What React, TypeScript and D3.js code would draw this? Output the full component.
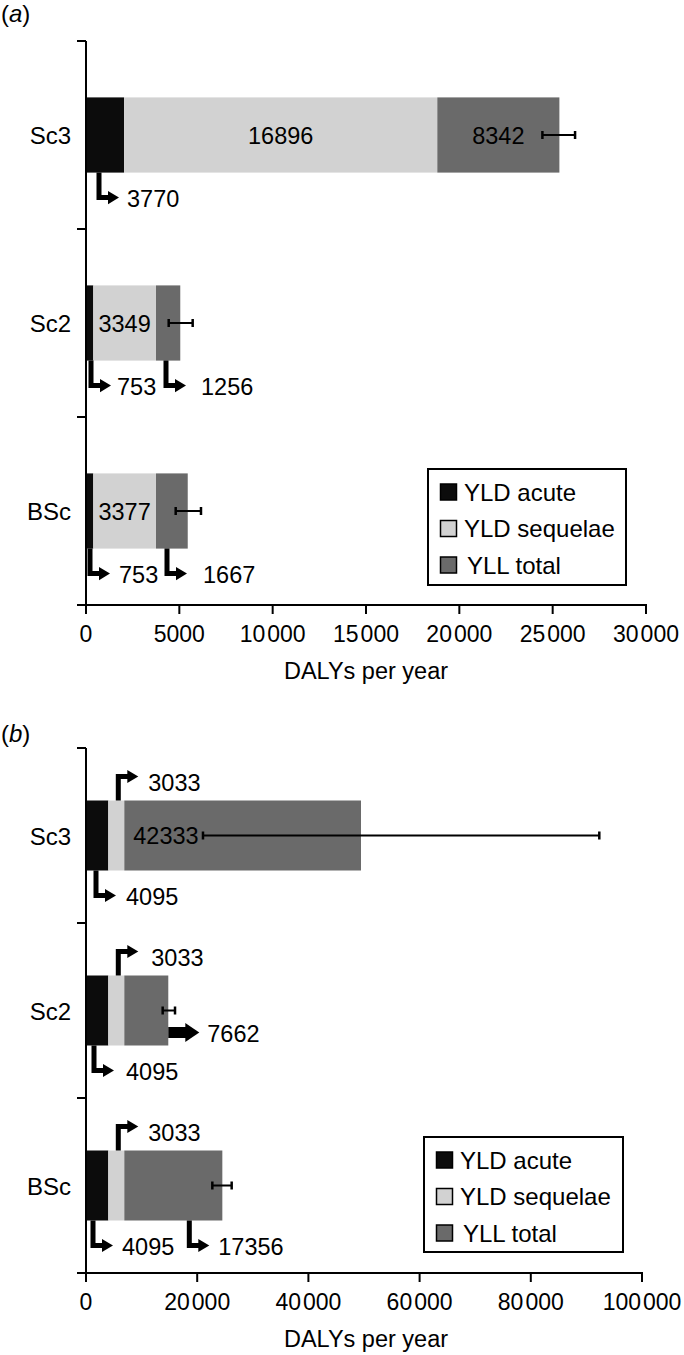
import React from "react";
import * as d3 from "d3";

// ---------- data ----------
const categories = ["Sc3", "Sc2", "BSc"];
const seriesNames = ["YLD acute", "YLD sequelae", "YLL total"];

// panel (a) bar segment lengths (DALYs per year)
const aAcute = [2040, 390, 390];
const aSequelae = [16780, 3360, 3360];
const aYll = [6540, 1300, 1700];
const aErrLow = [24450, 4430, 4805];
const aErrHigh = [26200, 5715, 6160];
const aTicks = [0, 5000, 10000, 15000, 20000, 25000, 30000];
const aInnerLabels = [["", "16896", "8342"], ["", "3349", ""], ["", "3377", ""]];

// panel (b)
const bAcute = [4010, 4010, 4010];
const bSequelae = [2880, 2880, 2880];
const bYll = [42570, 7910, 17630];
const bErrLow = [21040, 13790, 22720];
const bErrHigh = [92320, 16010, 26200];
const bTicks = [0, 20000, 40000, 60000, 80000, 100000];
const bInnerLabels = [["", "", "42333"], ["", "", ""], ["", "", ""]];

// callouts: [category index, segment index, direction, label]
const aCallouts: [number, number, string, string][] = [
  [0, 0, "down", "3770"],
  [1, 0, "down", "753"],
  [1, 2, "down", "1256"],
  [2, 0, "down", "753"],
  [2, 2, "down", "1667"],
];
const bCallouts: [number, number, string, string][] = [
  [0, 1, "up", "3033"],
  [0, 0, "down", "4095"],
  [1, 1, "up", "3033"],
  [1, 2, "right", "7662"],
  [1, 0, "down", "4095"],
  [2, 1, "up", "3033"],
  [2, 0, "down", "4095"],
  [2, 2, "down", "17356"],
];

// ---------- layout ----------
const colors = ["#0c0c0c", "#d2d2d2", "#6a6a6a"];
const FONT = "'Liberation Sans', Arial, Helvetica, sans-serif";

type PanelCfg = {
  tag: string;
  tagY: number;
  acute: number[];
  seq: number[];
  yll: number[];
  errLo: number[];
  errHi: number[];
  ticks: number[];
  inner: string[][];
  callouts: [number, number, string, string][];
  xRange: [number, number];
  yRange: [number, number];
  innerAlign: string;
  calloutLayout: { off: number; gap: number }[];
  legend: { x: number; y: number; w: number; h: number };
};

const panels: PanelCfg[] = [
  {
    tag: "a",
    tagY: 22,
    acute: aAcute,
    seq: aSequelae,
    yll: aYll,
    errLo: aErrLow,
    errHi: aErrHigh,
    ticks: aTicks,
    inner: aInnerLabels,
    callouts: aCallouts,
    xRange: [86, 646],
    yRange: [41, 605],
    innerAlign: "middle",
    calloutLayout: [
      { off: 13, gap: 8 },
      { off: 5, gap: 6 },
      { off: 10, gap: 15 },
      { off: 4, gap: 9 },
      { off: 11, gap: 16 },
    ],
    legend: { x: 428, y: 469, w: 198, h: 116 },
  },
  {
    tag: "b",
    tagY: 742,
    acute: bAcute,
    seq: bSequelae,
    yll: bYll,
    errLo: bErrLow,
    errHi: bErrHigh,
    ticks: bTicks,
    inner: bInnerLabels,
    callouts: bCallouts,
    xRange: [86, 642],
    yRange: [748, 1273],
    innerAlign: "start",
    calloutLayout: [
      { off: 10, gap: 10 },
      { off: 10, gap: 10 },
      { off: 10, gap: 13 },
      { off: 0, gap: 8 },
      { off: 8, gap: 12 },
      { off: 10, gap: 10 },
      { off: 7, gap: 9 },
      { off: 65, gap: 9 },
    ],
    legend: { x: 424, y: 1137, w: 199, h: 115 },
  },
];

function TickLabel({ x, y, v }: { x: number; y: number; v: number }) {
  const s = String(v);
  if (v >= 10000) {
    return (
      <text x={x} y={y} textAnchor="middle">
        {s.slice(0, -3)}
        <tspan dx={2}>{s.slice(-3)}</tspan>
      </text>
    );
  }
  return (
    <text x={x} y={y} textAnchor="middle">
      {s}
    </text>
  );
}

function Panel({ p }: { p: PanelCfg }) {
  const x = d3.scaleLinear().domain([0, p.ticks[p.ticks.length - 1]]).range(p.xRange);
  const y = d3.scaleBand<string>().domain(categories).range(p.yRange).paddingInner(0.6).paddingOuter(0.3);
  const bw = y.bandwidth();
  const x0 = p.xRange[0];
  const [yTop, yBot] = p.yRange;
  const tickStep = (yBot - yTop) / categories.length;

  const stacks = categories.map((c, i) => {
    const vals = [p.acute[i], p.seq[i], p.yll[i]];
    const cum = d3.cumsum(vals);
    return vals.map((v, j) => ({ start: cum[j] - v, end: cum[j] }));
  });

  const head = (tx: number, ty: number, size: number) =>
    `M${tx},${ty} L${tx - size},${ty - size * 0.6} L${tx - size},${ty + size * 0.6} Z`;

  return (
    <g fontFamily={FONT} fill="#000">
      <text x={1} y={p.tagY} fontSize={24}>
        (<tspan fontStyle="italic">{p.tag}</tspan>)
      </text>

      {categories.map((c, i) =>
        stacks[i].map((s, j) => (
          <rect
            key={c + j}
            x={x(s.start)}
            y={y(c)!}
            width={x(s.end) - x(s.start)}
            height={bw}
            fill={colors[j]}
          />
        ))
      )}

      {categories.map((c, i) =>
        stacks[i].map((s, j) =>
          p.inner[i][j] ? (
            <text
              key={"in" + c + j}
              x={p.innerAlign === "middle" ? (x(s.start) + x(s.end)) / 2 : x(s.start) + 9}
              y={y(c)! + bw / 2 + 8.5}
              fontSize={23.5}
              textAnchor={p.innerAlign}
            >
              {p.inner[i][j]}
            </text>
          ) : null
        )
      )}

      {categories.map((c, i) => {
        const cy = y(c)! + bw / 2;
        const a = x(p.errLo[i]);
        const b = x(p.errHi[i]);
        return (
          <g key={"e" + c} stroke="#000">
            <line x1={a} x2={b} y1={cy} y2={cy} strokeWidth={2} />
            <line x1={a} x2={a} y1={cy - 4} y2={cy + 4} strokeWidth={2.5} />
            <line x1={b} x2={b} y1={cy - 4} y2={cy + 4} strokeWidth={2.5} />
          </g>
        );
      })}

      {p.callouts.map(([ci, si, dir, label], k) => {
        const c = categories[ci];
        const seg = stacks[ci][si];
        const lay = p.calloutLayout[k];
        const top = y(c)!;
        const bot = top + bw;
        if (dir === "right") {
          const sx = x(seg.end);
          const cy = top + bw / 2 + 22;
          const tip = sx + 31;
          return (
            <g key={"co" + k}>
              <rect x={sx} y={cy - 5.5} width={tip - sx - 13} height={11} fill="#000" />
              <path d={`M${tip},${cy} L${tip - 14},${cy - 9.5} L${tip - 14},${cy + 9.5} Z`} fill="#000" />
              <text x={tip + lay.gap} y={cy + 9} fontSize={23.5}>
                {label}
              </text>
            </g>
          );
        }
        const sx = x(seg.start) + lay.off;
        const ay = dir === "down" ? bot + 25 : top - 24;
        const tip = sx + 20;
        const ty = dir === "down" ? ay + 9 : ay + 14;
        return (
          <g key={"co" + k}>
            <path
              d={`M${sx},${dir === "down" ? bot : top} L${sx},${ay} L${tip - 8},${ay}`}
              fill="none"
              stroke="#000"
              strokeWidth={5}
              strokeLinejoin="miter"
            />
            <path d={head(tip, ay, 11)} fill="#000" />
            <text x={tip + lay.gap} y={ty} fontSize={23.5}>
              {label}
            </text>
          </g>
        );
      })}

      <line x1={x0} x2={x0} y1={yTop} y2={yBot + 1} stroke="#000" strokeWidth={2} />
      {d3.range(categories.length + 1).map((k) => (
        <line
          key={"yt" + k}
          x1={x0 - 9}
          x2={x0}
          y1={yTop + k * tickStep}
          y2={yTop + k * tickStep}
          stroke="#000"
          strokeWidth={2}
        />
      ))}
      {categories.map((c) => (
        <text key={"yl" + c} x={71} y={y(c)! + bw / 2 + 9} fontSize={24} textAnchor="end">
          {c}
        </text>
      ))}

      <line x1={x0 - 9} x2={p.xRange[1] + 1} y1={yBot} y2={yBot} stroke="#000" strokeWidth={2} />
      {p.ticks.map((t) => (
        <g key={"xt" + t}>
          <line x1={x(t)} x2={x(t)} y1={yBot} y2={yBot + 9} stroke="#000" strokeWidth={2} />
          <g fontSize={23}>
            <TickLabel x={x(t)} y={yBot + 37} v={t} />
          </g>
        </g>
      ))}
      <text x={366} y={yBot + 74} fontSize={23.5} textAnchor="middle">
        DALYs per year
      </text>

      <rect
        x={p.legend.x}
        y={p.legend.y}
        width={p.legend.w}
        height={p.legend.h}
        fill="#fff"
        stroke="#000"
        strokeWidth={2}
      />
      {seriesNames.map((n, k) => {
        const cy = p.legend.y + 23 + k * 36.5;
        return (
          <g key={"lg" + n}>
            <rect x={p.legend.x + 12.5} y={cy - 8} width={16} height={16} fill={colors[k]} stroke="#000" strokeWidth={1.5} />
            <text x={p.legend.x + 36 + (k === 2 ? 3 : 0)} y={cy + 8.5} fontSize={24}>
              {n}
            </text>
          </g>
        );
      })}
    </g>
  );
}

export default function App() {
  return (
    <svg
      width={684}
      height={1355}
      style={{ position: "absolute", left: 0, top: 0, background: "#fff" }}
    >
      <rect width={684} height={1355} fill="#fff" />
      {panels.map((p) => (
        <Panel key={p.tag} p={p} />
      ))}
    </svg>
  );
}
